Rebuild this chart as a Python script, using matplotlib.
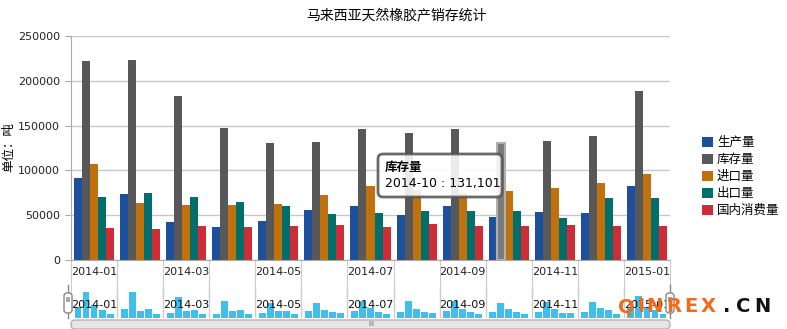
import matplotlib.pyplot as plt
import numpy as np
from matplotlib.patches import FancyBboxPatch
from matplotlib.transforms import IdentityTransform, blended_transform_factory

plt.rcParams['font.family'] = ['DejaVu Sans', 'Noto Sans CJK SC']

months = ['2014-01', '2014-02', '2014-03', '2014-04', '2014-05', '2014-06', '2014-07',
          '2014-08', '2014-09', '2014-10', '2014-11', '2014-12', '2015-01']
production = [91500, 73700, 42400, 36800, 43500, 55800, 60300, 50200, 60300, 48000, 53600, 52500, 82600]
stock = [222000, 223000, 183000, 147600, 130600, 131700, 146200, 141700, 146200, 131101, 132800, 138400, 188600]
imports = [107000, 63600, 61400, 61400, 62500, 72500, 82600, 78100, 74800, 77000, 80400, 85900, 96000]
exports = [70300, 74800, 70300, 64700, 60300, 51300, 52500, 54700, 54700, 54700, 46900, 69200, 69200]
consumption = [35700, 34600, 37900, 36800, 37900, 39000, 36800, 40200, 37900, 37900, 39000, 37900, 37900]

series_names = ['生产量', '库存量', '进口量', '出口量', '国内消费量']
series_colors = ['#1c4f9c', '#585858', '#c0700c', '#006e6a', '#d02c37']
series_values = [production, stock, imports, exports, consumption]
highlight = 9  # month shown in the tooltip

W, H = 787, 329
fig = plt.figure(figsize=(W / 100, H / 100), dpi=100)


def fx(px):
    return px / W


def fy(py):
    return 1 - py / H


def px_box(x0, y0, x1, y1, **kw):
    p = FancyBboxPatch((x0, H - y1), x1 - x0, y1 - y0, transform=IdentityTransform(), **kw)
    fig.add_artist(p)
    return p


# main chart
ax = fig.add_axes([fx(71), fy(260), fx(670) - fx(71), (260 - 36) / H])
x = np.arange(len(months))
bw = 0.174
containers = []
for i, (name, vals, color) in enumerate(zip(series_names, series_values, series_colors)):
    c = ax.bar(x + (i - 2) * bw, vals, bw, color=color, label=name, zorder=2)
    containers.append(c)

hb = containers[1][highlight]
hb.set_facecolor('#7a7a7a')
hb.set_edgecolor('#b0b0b0')
hb.set_linewidth(1.5)
hb.set_zorder(3)

ax.set_xlim(-0.5, len(months) - 0.5)
ax.set_ylim(0, 250000)
ax.set_yticks(np.arange(0, 250001, 50000))
ax.grid(axis='y', color='#c8c8c8', lw=1, zorder=0)
for s in ['top', 'right']:
    ax.spines[s].set_visible(False)
for s in ['left', 'bottom']:
    ax.spines[s].set_color('#aaaaaa')
ax.tick_params(axis='y', length=4, color='#aaaaaa', labelsize=8, labelcolor='#222222', pad=4)
ax.set_xticks(np.arange(-0.5, len(months)), labels=[])
ax.set_xticks(x[::2], labels=months[::2], minor=True)
ax.tick_params(axis='x', which='major', length=27, color='#cccccc')
ax.tick_params(axis='x', which='minor', length=0, labelsize=8, labelcolor='#222222', pad=5)

ax.legend(loc='upper left', bbox_to_anchor=(fx(702), fy(136)), bbox_transform=fig.transFigure,
          frameon=False, handlelength=0.9, handleheight=0.9, handletextpad=0.3,
          labelspacing=0.32, fontsize=9, borderaxespad=0, borderpad=0)

fig.text(fx(396), fy(15), '马来西亚天然橡胶产销存统计', ha='center', va='center', fontsize=10)
fig.text(fx(9), fy(147), '单位：吨', rotation=90, ha='center', va='center', fontsize=9)

# tooltip
px_box(378, 154, 502, 197, boxstyle='round,pad=0,rounding_size=5', facecolor='white',
       alpha=0.88, edgecolor='#555555', lw=2, zorder=10)
fig.text(385, H - 167, series_names[1], transform=IdentityTransform(), ha='left', va='center',
         fontsize=9, fontweight='bold', zorder=11)
fig.text(385, H - 183, f'{months[highlight]} : {stock[highlight]:,}', transform=IdentityTransform(),
         ha='left', va='center', fontsize=9, zorder=11)

# data zoom slider
sx = fig.add_axes([fx(71), fy(318), fx(670) - fx(71), (318 - 287) / H])
for i, vals in enumerate(series_values):
    sx.bar(x + (i - 2) * bw, vals, 0.15, color='#3fbfea', zorder=2)
sx.set_xlim(-0.5, len(months) - 0.5)
sx.set_ylim(0, 265000)
sx.axis('off')
for b in np.arange(0.5, len(months) - 0.5):
    sx.axvline(b, color='#cccccc', lw=1, zorder=1)
bt = blended_transform_factory(sx.transData, sx.transAxes)
for k in x[::2]:
    sx.text(k, 0.42, months[k], transform=bt, ha='center', va='center', fontsize=8,
            color='#111111', zorder=5)

px_box(71, 320, 670, 329, boxstyle='round,pad=0,rounding_size=4', facecolor='#e6e6e6',
       edgecolor='#b5b5b5', lw=1, zorder=6)
fig.text(371, H - 324, 'III', transform=IdentityTransform(), ha='center', va='center',
         fontsize=5, color='#666666', zorder=7)

for hx in [68, 670]:
    fig.add_artist(plt.Line2D([hx, hx], [H - 285, H - 318], transform=IdentityTransform(),
                              color='#888888', lw=1, zorder=7))
    px_box(hx - 4, 293, hx + 4, 313, boxstyle='round,pad=0,rounding_size=3', facecolor='white',
           edgecolor='#888888', lw=1, zorder=8)
    px_box(hx - 2, 297, hx + 2, 302, boxstyle='square,pad=0', facecolor='#aaaaaa',
           edgecolor='none', zorder=9)

# watermark (overlays the slider, as in the source image)
mark = 'QINREX.CN'
mark_x = [626, 641, 654, 674, 691, 708, 727, 743, 762]
for ch, mx in zip(mark, mark_x):
    col = '#f26a1c' if mx < 720 else '#111111'
    fig.text(mx, H - 307, ch, transform=IdentityTransform(), ha='center', va='center',
             fontsize=14, fontweight='bold', color=col, zorder=12)

fig.savefig('out.png', dpi=100)
